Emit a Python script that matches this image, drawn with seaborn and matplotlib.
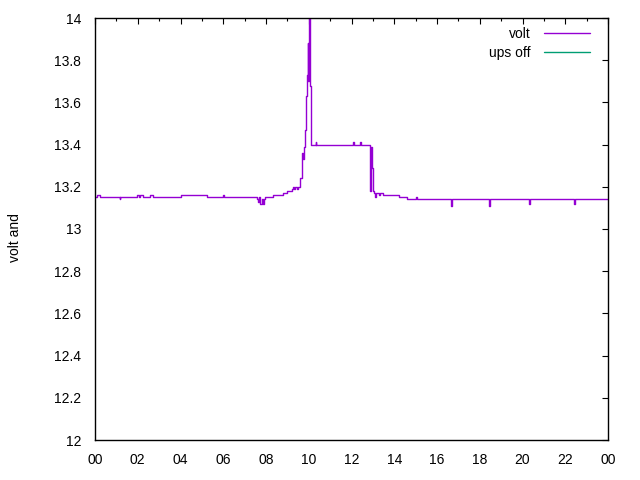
import matplotlib
matplotlib.use("Agg")
import matplotlib.pyplot as plt
from matplotlib.ticker import MultipleLocator, FuncFormatter
import seaborn as sns
import pandas as pd

# ---- data (hours of day, volts) ----
hours = [0.00, 0.08, 0.25, 1.15, 1.19, 1.97, 2.05, 2.10, 2.25, 2.57, 2.72, 4.01,
         5.22, 5.98, 6.02, 7.56, 7.62, 7.68, 7.74, 7.80, 7.88, 7.92, 7.95, 8.31, 8.78,
         8.97, 9.20, 9.25, 9.30, 9.38, 9.44, 9.52, 9.60, 9.68, 9.72, 9.76, 9.82,
         9.87, 9.92, 9.96, 9.98, 10.00, 10.02, 10.04, 10.06, 10.10, 10.32, 10.35,
         12.07, 12.10, 12.42, 12.45, 12.87, 12.92, 12.96, 13.00, 13.05, 13.12,
         13.16, 13.30, 13.35, 13.49, 14.20, 14.58, 15.04, 15.07, 16.64, 16.68,
         18.44, 18.48, 20.31, 20.35, 22.41, 22.45, 24.00]
volt = [13.15, 13.16, 13.15, 13.14, 13.15, 13.16, 13.15, 13.16, 13.15, 13.16, 13.15, 13.16,
        13.15, 13.16, 13.15, 13.14, 13.13, 13.15, 13.12, 13.14, 13.12, 13.14, 13.15, 13.16, 13.17,
        13.18, 13.19, 13.20, 13.19, 13.20, 13.19, 13.20, 13.24, 13.36, 13.33, 13.39, 13.47,
        13.63, 13.73, 13.88, 13.70, 13.88, 14.10, 13.88, 13.68, 13.40, 13.41, 13.40,
        13.41, 13.40, 13.41, 13.40, 13.18, 13.39, 13.29, 13.18, 13.17, 13.15,
        13.17, 13.16, 13.17, 13.16, 13.15, 13.14, 13.15, 13.14, 13.11, 13.14,
        13.11, 13.14, 13.12, 13.14, 13.12, 13.14, 13.14]
ups_off_hours = []
ups_off_volt = []

x_ticks = list(range(0, 25, 2))
x_labels = ["00", "02", "04", "06", "08", "10", "12", "14", "16", "18", "20", "22", "00"]
y_label = "volt and"

sns.set_theme(style="white")
plt.rcParams["font.family"] = ["Liberation Sans", "DejaVu Sans"]

fig = plt.figure(figsize=(6.4, 4.8), dpi=100)
ax = fig.add_axes([95/640, 40/480, 513/640, 422/480])

df = pd.DataFrame({"h": hours, "v": volt})
sns.lineplot(data=df, x="h", y="v", ax=ax, color="#9400d3", linewidth=1.0,
             drawstyle="steps-post", estimator=None, sort=False, label="volt")
ax.plot(ups_off_hours, ups_off_volt, color="#009e73", linewidth=1.0, label="ups off")

ax.set_xlim(0, 24)
ax.set_ylim(12, 14)
ax.set_xticks(x_ticks)
ax.set_xticklabels(x_labels)
ax.xaxis.set_minor_locator(MultipleLocator(1))
ax.yaxis.set_major_locator(MultipleLocator(0.2))
ax.yaxis.set_major_formatter(FuncFormatter(lambda v, p: f"{v:g}"))
ax.set_xlabel("")
ax.set_ylabel(y_label, fontsize=10, color="black")
ax.yaxis.set_label_coords(-0.142, 0.48)

ax.tick_params(axis="both", which="both", direction="in", top=True, right=True,
               colors="black", labelsize=10, width=0.8)
ax.tick_params(axis="both", which="major", length=4.5)
ax.tick_params(axis="x", which="minor", length=2.5)
ax.tick_params(axis="y", which="major", pad=10)
ax.tick_params(axis="x", which="major", pad=9)
for s in ax.spines.values():
    s.set_visible(True)
    s.set_color("black")
    s.set_linewidth(1.0)
ax.grid(False)

leg = ax.legend(loc="upper right", bbox_to_anchor=(0.965, 0.978), frameon=False,
                markerfirst=False, handlelength=3.3, handletextpad=1.0,
                borderpad=0, borderaxespad=0, labelspacing=0.35, fontsize=10)
for t in leg.get_texts():
    t.set_color("black")

fig.savefig("out.png", dpi=100)
